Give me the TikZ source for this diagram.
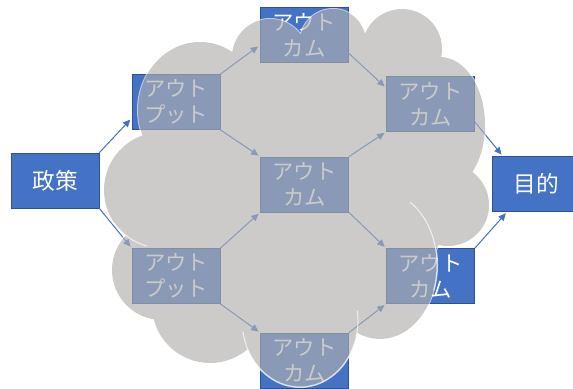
\documentclass[tikz,border=0pt]{standalone}
\usepackage{fontspec}
\setmainfont{Noto Sans CJK JP}
\usetikzlibrary{arrows.meta}

\definecolor{boxblue}{HTML}{4472C4}
\definecolor{boxline}{HTML}{2F528F}
\definecolor{cloudgray}{RGB}{176,175,174}

\begin{document}
\begin{tikzpicture}[
  x=0.75pt,y=-0.75pt,
  box/.style={draw=boxline, line width=0.5pt, fill=boxblue, text=white, align=center, minimum width=66pt, minimum height=41.25pt, inner sep=0pt, font=\fontsize{16}{19.5}\selectfont},
  arr/.style={-{Triangle[length=5.5pt,width=5pt]}, draw=boxblue, line width=0.75pt, shorten >=1.5pt},
  crease/.style={draw=white, line width=0.75pt, opacity=0.7},
  bumps/.style={insert path={
    (200,110) ellipse [x radius=62, y radius=68]
    (270,57) circle [radius=38]
    (333,42) circle [radius=33]
    (402,49) circle [radius=40]
    (440,125) ellipse [x radius=45, y radius=68]
    (448,205) circle [radius=41]
    (380,265) ellipse [x radius=57, y radius=74]
    (300,320) ellipse [x radius=58, y radius=67]
    (210,305) circle [radius=58]
    (162,270) circle [radius=50]
    (162,190) circle [radius=58]
    (330,120) ellipse [x radius=120, y radius=80]
    (300,195) ellipse [x radius=150, y radius=130]}}
]
\useasboundingbox (0,0) rectangle (573,388);

% boxes
\node[box, font=\fontsize{17}{20}\selectfont] (policy) at (55,180.5) {政策};
\node[box] (outA) at (176,102) {アウト\\プット};
\node[box] (outB) at (176,276) {アウト\\プット};
\node[box] (top) at (304,35) {アウト\\カム};
\node[box] (mid) at (304.5,184.5) {アウト\\カム};
\node[box] (bottom) at (304.5,360.5) {アウト\\カム};
\node[box] (upper) at (430.5,104) {アウト\\カム};
\node[box] (lower) at (430.5,276) {アウト\\カム};
\node[box, font=\fontsize{17}{20}\selectfont] (goal) at (536,184) {目的};

% connectors
\draw[arr] (policy.north east) -- (outA.200); \draw[arr] (policy.south east) -- (outB.north west);
\draw[arr] (outA.north east) -- (top.193); \draw[arr] (outA.south east) -- (mid.north west);
\draw[arr] (outB.north east) -- (mid.south west); \draw[arr] (outB.south east) -- (bottom.north west);
\draw[arr] (top.-22) -- (upper.160); \draw[arr] (mid.north east) -- (upper.south west);
\draw[arr] (mid.south east) -- (lower.north west); \draw[arr] (bottom.north east) -- (lower.south west);
\draw[arr] (upper.-22) -- (goal.140); \draw[arr] (lower.north east) -- (goal.224);

% cloud over everything
\begin{scope}[transparency group, opacity=0.65]
  \draw[white, line width=1.5pt] [bumps];
  \fill[cloudgray] [bumps];
\end{scope}
\draw[crease] (162,190) ++(145:58) arc[start angle=145, end angle=105, radius=58];
\draw[crease] (300,320) ++(170:58 and 67) arc[start angle=170, end angle=-8, x radius=58, y radius=67];
\draw[crease] (380,265) ++(-58:57 and 74) arc[start angle=-58, end angle=20, x radius=57, y radius=74];
\end{tikzpicture}
\end{document}
